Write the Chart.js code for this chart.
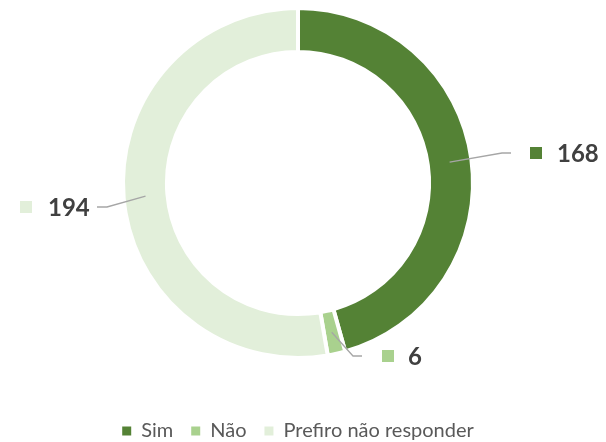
<!DOCTYPE html>
<html>
<head>
<meta charset="utf-8">
<script src="https://cdn.jsdelivr.net/npm/chart.js@4/dist/chart.umd.min.js"></script>
<style>
  html, body { margin: 0; padding: 0; background: #fff; }
  #wrap { width: 606px; height: 442px; }
</style>
</head>
<body>
<div id="wrap"><canvas id="respostas"></canvas></div>
<script>
const categories = ['Sim', 'Não', 'Prefiro não responder'];
const counts = [168, 6, 194];
const colors = ['#548235', '#a9d18e', '#e2efda'];

// leader line / label placement, relative to the doughnut centre
const calloutLayout = [
    { elbow: [204, -30], end: [213, -30], marker: [238, -30], text: 259 },
    { elbow: [55, 173], end: [64, 173], marker: [90, 173], text: 110 },
    { elbow: [-191, 24], end: [-201, 24], marker: [-272, 24], text: -250 }
];

const calloutPlugin = {
    id: 'callouts',
    afterDatasetsDraw(chart) {
        const ctx = chart.ctx;
        const meta = chart.getDatasetMeta(0);
        meta.data.forEach((arc, i) => {
            const p = arc.getProps(['x', 'y', 'startAngle', 'endAngle', 'innerRadius', 'outerRadius'], true);
            const mid = (p.startAngle + p.endAngle) / 2;
            const r = (p.innerRadius + p.outerRadius) / 2;
            const ax = p.x + Math.cos(mid) * r;
            const ay = p.y + Math.sin(mid) * r;
            const l = calloutLayout[i];

            ctx.save();
            ctx.strokeStyle = '#a6a6a6';
            ctx.lineWidth = 1.3;
            ctx.beginPath();
            ctx.moveTo(ax, ay);
            ctx.lineTo(p.x + l.elbow[0], p.y + l.elbow[1]);
            ctx.lineTo(p.x + l.end[0], p.y + l.end[1]);
            ctx.stroke();

            ctx.fillStyle = colors[i];
            ctx.fillRect(p.x + l.marker[0] - 6, p.y + l.marker[1] - 6, 12, 12);

            ctx.fillStyle = '#404040';
            ctx.font = 'bold 24px Lato';
            ctx.textBaseline = 'middle';
            ctx.textAlign = 'left';
            ctx.fillText(String(counts[i]), p.x + l.text, p.y + l.marker[1] + 1);
            ctx.restore();
        });
    }
};

new Chart(document.getElementById('respostas'), {
    type: 'doughnut',
    data: {
        labels: categories,
        datasets: [{
            data: counts,
            backgroundColor: colors,
            borderColor: '#ffffff',
            borderWidth: 4,
            radius: 175,
            cutout: '74.9%'
        }]
    },
    options: {
        responsive: true,
        maintainAspectRatio: false,
        animation: false,
        events: [],
        layout: {
            padding: { top: 0, left: 0, right: 10, bottom: -9 }
        },
        plugins: {
            tooltip: { enabled: false },
            legend: {
                position: 'bottom',
                title: { display: true, text: ' ', font: { size: 12 }, padding: { top: 0, bottom: 22.6 } },
                labels: {
                    boxWidth: 9,
                    boxHeight: 9,
                    padding: 18,
                    color: '#595959',
                    font: { family: 'Lato', size: 20 },
                    // no white outline on the legend squares
                    generateLabels: chart =>
                        Chart.overrides.doughnut.plugins.legend.labels.generateLabels(chart)
                            .map(item => ({ ...item, lineWidth: 0 }))
                }
            }
        }
    },
    plugins: [calloutPlugin]
});
</script>
</body>
</html>
